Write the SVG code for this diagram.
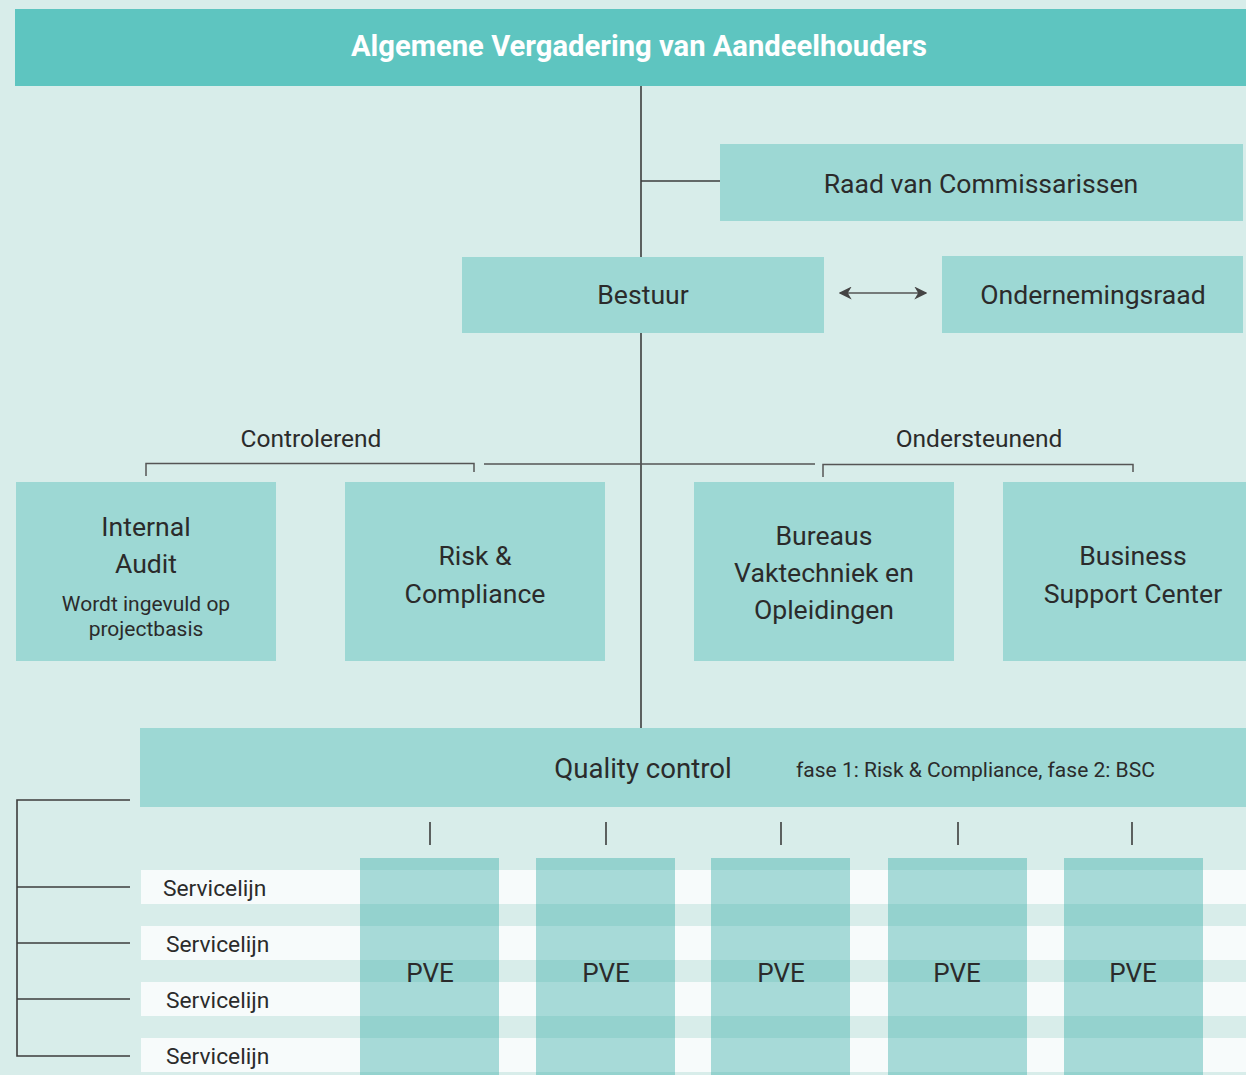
<svg xmlns="http://www.w3.org/2000/svg" width="1246" height="1075" viewBox="0 0 1246 1075">
  <defs>
    <style>
      .box { fill: #9dd8d4; }
      .lbl { font-family: Roboto, "Liberation Sans", sans-serif; fill: #2b2b2b; text-anchor: middle; }
      .ln { stroke: #3d3d3d; stroke-width: 1.6; fill: none; }
      .br { stroke: #555; stroke-width: 1.5; fill: none; }
      .row { fill: #f7fbfb; }
      .pve { fill: rgb(48,171,166); fill-opacity: 0.4; }
    </style>
    <marker id="ah" viewBox="0 0 10 10" refX="9" refY="5" markerWidth="13" markerHeight="13" markerUnits="userSpaceOnUse" orient="auto-start-reverse">
      <path d="M0,0 L10,5 L0,10 L3,5 Z" fill="#444"/>
    </marker>
  </defs>

  <rect width="1246" height="1075" fill="#d8edea"/>

  <!-- service line rows -->
  <g id="rows">
    <rect class="row" x="141" y="870" width="1105" height="34"/>
    <rect class="row" x="141" y="926" width="1105" height="34"/>
    <rect class="row" x="141" y="982" width="1105" height="34"/>
    <rect class="row" x="141" y="1038" width="1105" height="34"/>
  </g>

  <!-- connectors -->
  <g id="connectors">
    <line class="ln" x1="641" y1="86" x2="641" y2="260"/>
    <line class="ln" x1="641" y1="181" x2="720" y2="181" stroke-width="2"/>
    <line class="ln" x1="641" y1="327" x2="641" y2="738"/>
    <line class="br" x1="840" y1="293" x2="926" y2="293" marker-start="url(#ah)" marker-end="url(#ah)"/>
    <line class="br" x1="484" y1="464" x2="815" y2="464"/>
    <polyline class="br" points="146,476 146,463.5 474,463.5 474,472"/>
    <polyline class="br" points="823,477 823,464.5 1133,464.5 1133,472"/>
    <polyline class="ln" points="130,800 17,800 17,1056 130,1056" stroke-width="2"/>
    <line class="ln" x1="17" y1="887" x2="130" y2="887" stroke-width="2"/>
    <line class="ln" x1="17" y1="943" x2="130" y2="943" stroke-width="2"/>
    <line class="ln" x1="17" y1="999" x2="130" y2="999" stroke-width="2"/>
    <line class="ln" x1="430" y1="822" x2="430" y2="845"/>
    <line class="ln" x1="606" y1="822" x2="606" y2="845"/>
    <line class="ln" x1="781" y1="822" x2="781" y2="845"/>
    <line class="ln" x1="958" y1="822" x2="958" y2="845"/>
    <line class="ln" x1="1132" y1="822" x2="1132" y2="845"/>
  </g>

  <g id="ava">
    <rect x="15" y="9" width="1231" height="77" fill="#5ec5c0"/>
    <text class="lbl" x="639" y="56" font-size="29.2" font-weight="bold" style="fill:#fff">Algemene Vergadering van Aandeelhouders</text>
  </g>

  <g id="rvc">
    <rect class="box" x="720" y="144" width="523" height="77"/>
    <text class="lbl" x="981" y="193" font-size="26.6">Raad van Commissarissen</text>
  </g>

  <g id="bestuur">
    <rect class="box" x="462" y="257" width="362" height="76"/>
    <text class="lbl" x="643" y="304" font-size="26.6">Bestuur</text>
  </g>

  <g id="or">
    <rect class="box" x="942" y="256" width="301" height="77"/>
    <text class="lbl" x="1093" y="304" font-size="26.6">Ondernemingsraad</text>
  </g>

  <g id="label-controlerend">
    <text class="lbl" x="311" y="447" font-size="24.5">Controlerend</text>
  </g>
  <g id="label-ondersteunend">
    <text class="lbl" x="979" y="447" font-size="24.5">Ondersteunend</text>
  </g>

  <g id="internal-audit">
    <rect class="box" x="16" y="482" width="260" height="179"/>
    <text class="lbl" x="146" y="536" font-size="26.6">Internal</text>
    <text class="lbl" x="146" y="573" font-size="26.6">Audit</text>
    <text class="lbl" x="146" y="611" font-size="21">Wordt ingevuld op</text>
    <text class="lbl" x="146" y="636" font-size="21">projectbasis</text>
  </g>

  <g id="risk-compliance">
    <rect class="box" x="345" y="482" width="260" height="179"/>
    <text class="lbl" x="475" y="565" font-size="26.6">Risk &amp;</text>
    <text class="lbl" x="475" y="603" font-size="26.6">Compliance</text>
  </g>

  <g id="bureaus">
    <rect class="box" x="694" y="482" width="260" height="179"/>
    <text class="lbl" x="824" y="545" font-size="26.6">Bureaus</text>
    <text class="lbl" x="824" y="582" font-size="26.6">Vaktechniek en</text>
    <text class="lbl" x="824" y="619" font-size="26.6">Opleidingen</text>
  </g>

  <g id="bsc">
    <rect class="box" x="1003" y="482" width="243" height="179"/>
    <text class="lbl" x="1133" y="565" font-size="26.6">Business</text>
    <text class="lbl" x="1133" y="603" font-size="26.6">Support Center</text>
  </g>

  <g id="quality-control">
    <rect class="box" x="140" y="728" width="1106" height="79"/>
    <text class="lbl" x="643" y="778" font-size="27.6">Quality control</text>
    <text class="lbl" x="796" y="777" font-size="21" style="text-anchor:start">fase 1: Risk &amp; Compliance, fase 2: BSC</text>
  </g>

  <g id="servicelijnen">
    <text class="lbl" x="163" y="896" font-size="22.8" style="text-anchor:start">Servicelijn</text>
    <text class="lbl" x="166" y="952" font-size="22.8" style="text-anchor:start">Servicelijn</text>
    <text class="lbl" x="166" y="1008" font-size="22.8" style="text-anchor:start">Servicelijn</text>
    <text class="lbl" x="166" y="1064" font-size="22.8" style="text-anchor:start">Servicelijn</text>
  </g>

  <g id="pve-1">
    <rect class="pve" x="360" y="858" width="139" height="217"/>
    <text class="lbl" x="430" y="982" font-size="26">PVE</text>
  </g>
  <g id="pve-2">
    <rect class="pve" x="536" y="858" width="139" height="217"/>
    <text class="lbl" x="606" y="982" font-size="26">PVE</text>
  </g>
  <g id="pve-3">
    <rect class="pve" x="711" y="858" width="139" height="217"/>
    <text class="lbl" x="781" y="982" font-size="26">PVE</text>
  </g>
  <g id="pve-4">
    <rect class="pve" x="888" y="858" width="139" height="217"/>
    <text class="lbl" x="957" y="982" font-size="26">PVE</text>
  </g>
  <g id="pve-5">
    <rect class="pve" x="1064" y="858" width="139" height="217"/>
    <text class="lbl" x="1133" y="982" font-size="26">PVE</text>
  </g>
</svg>
